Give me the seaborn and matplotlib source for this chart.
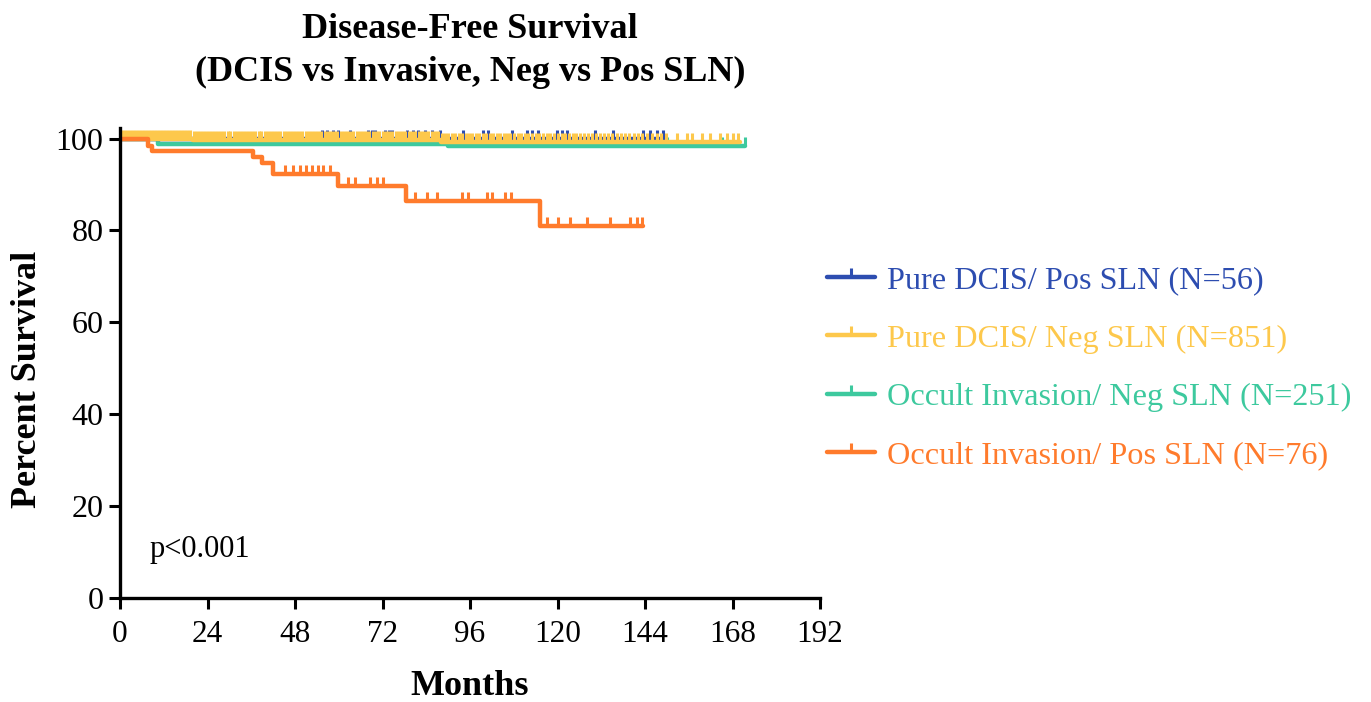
import numpy as np
import pandas as pd
import matplotlib
matplotlib.use("Agg")
import matplotlib.pyplot as plt
from matplotlib.path import Path
from matplotlib.lines import Line2D
import seaborn as sns

# ---------------- data ----------------
groups = ["Pure DCIS/ Pos SLN (N=56)", "Pure DCIS/ Neg SLN (N=851)",
          "Occult Invasion/ Neg SLN (N=251)", "Occult Invasion/ Pos SLN (N=76)"]
colors = ["#2D4DB0", "#FDC84C", "#3DC99E", "#FF7B2C"]

blue_t = [0]
blue_s = [100]
blue_end = 148.9
blue_censor = [55.4, 56.8, 58.4, 59.8, 63.1, 68.0, 69.1, 69.9, 72.7, 73.8, 74.6,
               78.7, 80.4, 81.7, 83.7, 85.6, 87.8, 94.1, 99.6, 100.9, 107.5, 111.6,
               113.0, 114.6, 119.9, 121.2, 122.6, 130.3, 135.2, 143.4, 145.4, 147.3, 148.9]

yellow_t = [0, 20, 88]
yellow_s = [100, 99.7, 99.3]
yellow_end = 170.0
yellow_censor = [0.4, 1.1, 2.0, 2.8, 3.5, 4.3, 5.2, 6.0, 6.9, 7.6, 8.5, 9.3, 10.1, 11.0,
                 11.8, 12.5, 13.4, 14.3, 15.1, 15.9, 16.8, 17.6, 18.4, 19.3, 20.2, 21.0,
                 21.9, 22.7, 23.5, 24.4, 25.3, 26.1, 26.9, 27.8, 28.6, 29.5, 30.3, 31.2,
                 32.0, 32.9, 33.7, 34.6, 35.4, 36.3, 37.1, 38.0, 38.8, 39.7, 40.6, 41.4,
                 42.3, 43.1, 44.0, 44.9, 45.7, 46.6, 47.4, 48.3, 49.2, 50.0, 50.9, 51.8,
                 52.6, 53.5, 54.4, 55.2, 56.1, 57.0, 57.9, 58.7, 59.6, 60.5, 61.4, 62.2,
                 63.1, 64.0, 64.9, 65.8, 66.6, 67.5, 68.4, 69.3, 70.2, 71.1, 72.0, 72.9,
                 73.8, 74.7, 75.6, 76.5, 77.4, 78.3, 79.2, 80.1, 81.0, 81.9, 82.8, 83.7,
                 84.6, 85.5, 86.4, 87.3, 88.3, 89.2, 90.1, 91.0, 92.0, 92.9, 93.8, 94.8,
                 95.7, 96.6, 97.6, 98.5, 99.5, 100.4, 101.4, 102.3, 103.3, 104.2, 105.2,
                 106.2, 107.1, 108.1, 109.1, 110.0, 111.0, 112.0, 113.0, 114.0, 115.0,
                 116.0, 117.0, 118.0, 119.0, 120.0, 121.1, 122.1, 123.1, 124.2, 125.2,
                 126.3, 127.3, 128.4, 129.5, 130.6, 131.7, 132.8, 133.9, 135.0, 136.2,
                 137.3, 138.5, 139.7, 140.9, 142.1, 143.3, 144.6, 145.9, 147.2, 148.5,
                 149.8, 152.8, 155.5, 157.0, 159.6, 161.8, 164.5, 166.5, 168.1, 169.5]

green_t = [0, 10.4, 90]
green_s = [100, 98.8, 98.4]
green_end = 171.4
green_censor = [60.0, 110.0, 130.0, 150.0, 165.0, 171.4]

orange_t = [0, 7.7, 8.8, 36.5, 39.0, 42.0, 59.8, 78.4, 115.2]
orange_s = [100, 98.3, 97.2, 96.0, 94.6, 92.2, 89.7, 86.5, 81.0]
orange_end = 143.4
orange_censor = [45.3, 47.4, 49.4, 51.0, 52.7, 54.3, 55.7, 57.6, 62.5, 64.5, 68.6,
                 70.5, 72.1, 78.4, 80.9, 84.2, 86.9, 93.8, 95.4, 100.7, 102.0, 105.6,
                 107.2, 117.1, 120.1, 123.4, 128.1, 134.4, 139.9, 141.8, 143.2]

x_ticks = [0, 24, 48, 72, 96, 120, 144, 168, 192]
y_ticks = [0, 20, 40, 60, 80, 100]

series = {
    groups[0]: (blue_t, blue_s, blue_end, blue_censor),
    groups[1]: (yellow_t, yellow_s, yellow_end, yellow_censor),
    groups[2]: (green_t, green_s, green_end, green_censor),
    groups[3]: (orange_t, orange_s, orange_end, orange_censor),
}
palette = dict(zip(groups, colors))

# ---------------- style ----------------
sns.set_theme(style="white")
plt.rcParams["font.family"] = ["Liberation Serif", "DejaVu Serif"]
plt.rcParams["text.color"] = "black"
plt.rcParams["axes.labelcolor"] = "black"

fig = plt.figure(figsize=(13.71, 7.02), dpi=100)
ax = fig.add_axes([120 / 1371, 1 - 598 / 702, 700 / 1371, (598 - 128) / 702])

tick_marker = Path([(0, 0), (0, 1)], [Path.MOVETO, Path.LINETO])

draw_order = [groups[2], groups[0], groups[1], groups[3]]
for g in draw_order:
    t, s, end, cens = series[g]
    df = pd.DataFrame({"month": list(t) + [end], "surv": list(s) + [s[-1]]})
    sns.lineplot(data=df, x="month", y="surv", ax=ax, color=palette[g],
                 drawstyle="steps-post", estimator=None, sort=False,
                 linewidth=3.2, legend=False)
    idx = np.searchsorted(np.asarray(t), np.asarray(cens), side="right") - 1
    cy = np.asarray(s)[idx]
    ax.plot(cens, cy, linestyle="none", marker=tick_marker, markersize=13,
            markeredgewidth=2.2, color=palette[g])

ax.set_xlim(0, 192)
ax.set_ylim(0, 102.3)
ax.set_xticks(x_ticks)
ax.set_yticks(y_ticks)
ax.tick_params(axis="both", direction="out", length=8, width=2.2,
               labelsize=22.5, colors="black", bottom=True, left=True)
ax.tick_params(axis="x", pad=8)
ax.tick_params(axis="y", pad=4, labelsize=23)
for sp in ["top", "right"]:
    ax.spines[sp].set_visible(False)
for sp in ["left", "bottom"]:
    ax.spines[sp].set_linewidth(2.4)
    ax.spines[sp].set_color("black")

ax.set_xlabel("Months", fontsize=26, fontweight="bold", labelpad=15)
ax.set_ylabel("Percent Survival", fontsize=26, fontweight="bold")
ax.yaxis.set_label_coords(-0.108, 0.465)
ax.set_title("Disease-Free Survival\n(DCIS vs Invasive, Neg vs Pos SLN)",
             fontsize=26, fontweight="bold", pad=34, linespacing=1.37, color="black")

ax.text(8.2, 10.5, "p<0.001", fontsize=22, ha="left", va="center", color="black")

handles = [Line2D([0], [0], color=c, linewidth=3.2, marker=tick_marker,
                  markersize=13, markeredgewidth=2.2) for c in colors]
fig.legend(handles, groups, loc="center left",
           bbox_to_anchor=(827 / 1371, 1 - 368 / 702), frameon=False,
           fontsize=23.2, labelcolor=colors, handlelength=1.5, handletextpad=0.35,
           labelspacing=0.9, borderpad=0, borderaxespad=0, numpoints=1)

fig.savefig("out.png", dpi=100, facecolor="white")
